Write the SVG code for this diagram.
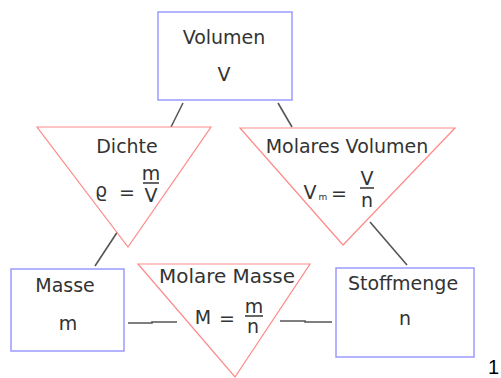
<svg xmlns="http://www.w3.org/2000/svg" width="501" height="378" viewBox="0 0 501 378">
<style>
.box{fill:#fff;stroke:#9a9aff;stroke-width:1.5}
.tri{fill:#fff;stroke:#ff8a8a;stroke-width:1.2}
.ln{stroke:#555;stroke-width:1.6;fill:none}
text{font-family:"DejaVu Sans",sans-serif;font-size:19px;fill:#333;text-anchor:middle}
.bar{stroke:#333;stroke-width:1.5}
</style>
<rect width="501" height="378" fill="#fff"/>
<g id="connectors">
<line class="ln" x1="183" y1="103" x2="171" y2="127"/>
<line class="ln" x1="278" y1="103" x2="292" y2="127"/>
<line class="ln" x1="118" y1="231" x2="95" y2="266"/>
<line class="ln" x1="370" y1="222" x2="407" y2="265"/>
<polyline class="ln" points="128,323 152,323 152,322 177,322"/>
<polyline class="ln" points="280,321 305,321 305,322 332,322"/>
</g>
<g id="volumen">
<rect class="box" x="158" y="12" width="134" height="88"/>
<text x="224" y="44">Volumen</text>
<text x="224" y="81">V</text>
</g>
<g id="dichte">
<polygon class="tri" points="37,127 211,127 128,247"/>
<text x="127" y="153">Dichte</text>
<text x="101" y="197">ϱ</text>
<text x="127" y="199">=</text>
<text x="151" y="180">m</text>
<line class="bar" x1="143" y1="183" x2="159" y2="183"/>
<text x="151" y="202">V</text>
</g>
<g id="molares-volumen">
<polygon class="tri" points="240,128 455,128 343,245"/>
<text x="347" y="153">Molares Volumen</text>
<text x="310" y="199">V</text>
<text x="318.5" y="200" style="font-size:9px;text-anchor:start">m</text>
<text x="339" y="200">=</text>
<text x="367" y="185">V</text>
<line class="bar" x1="360" y1="188" x2="374" y2="188"/>
<text x="367" y="207">n</text>
</g>
<g id="masse">
<rect class="box" x="11" y="269" width="113" height="82"/>
<text x="65" y="292">Masse</text>
<text x="68" y="330">m</text>
</g>
<g id="molare-masse">
<polygon class="tri" points="138,264 310,264 235,377"/>
<text x="227" y="283" textLength="136" lengthAdjust="spacingAndGlyphs">Molare Masse</text>
<text x="203" y="324">M</text>
<text x="227" y="325">=</text>
<text x="254" y="313">m</text>
<line class="bar" x1="245" y1="316" x2="263" y2="316"/>
<text x="253" y="333">n</text>
</g>
<g id="stoffmenge">
<rect class="box" x="336" y="268" width="138" height="89"/>
<text x="403" y="290">Stoffmenge</text>
<text x="405" y="325">n</text>
</g>
<text x="488" y="374" style="font-family:'Liberation Sans',sans-serif;font-size:20px;fill:#000;text-anchor:start">1</text>
</svg>
